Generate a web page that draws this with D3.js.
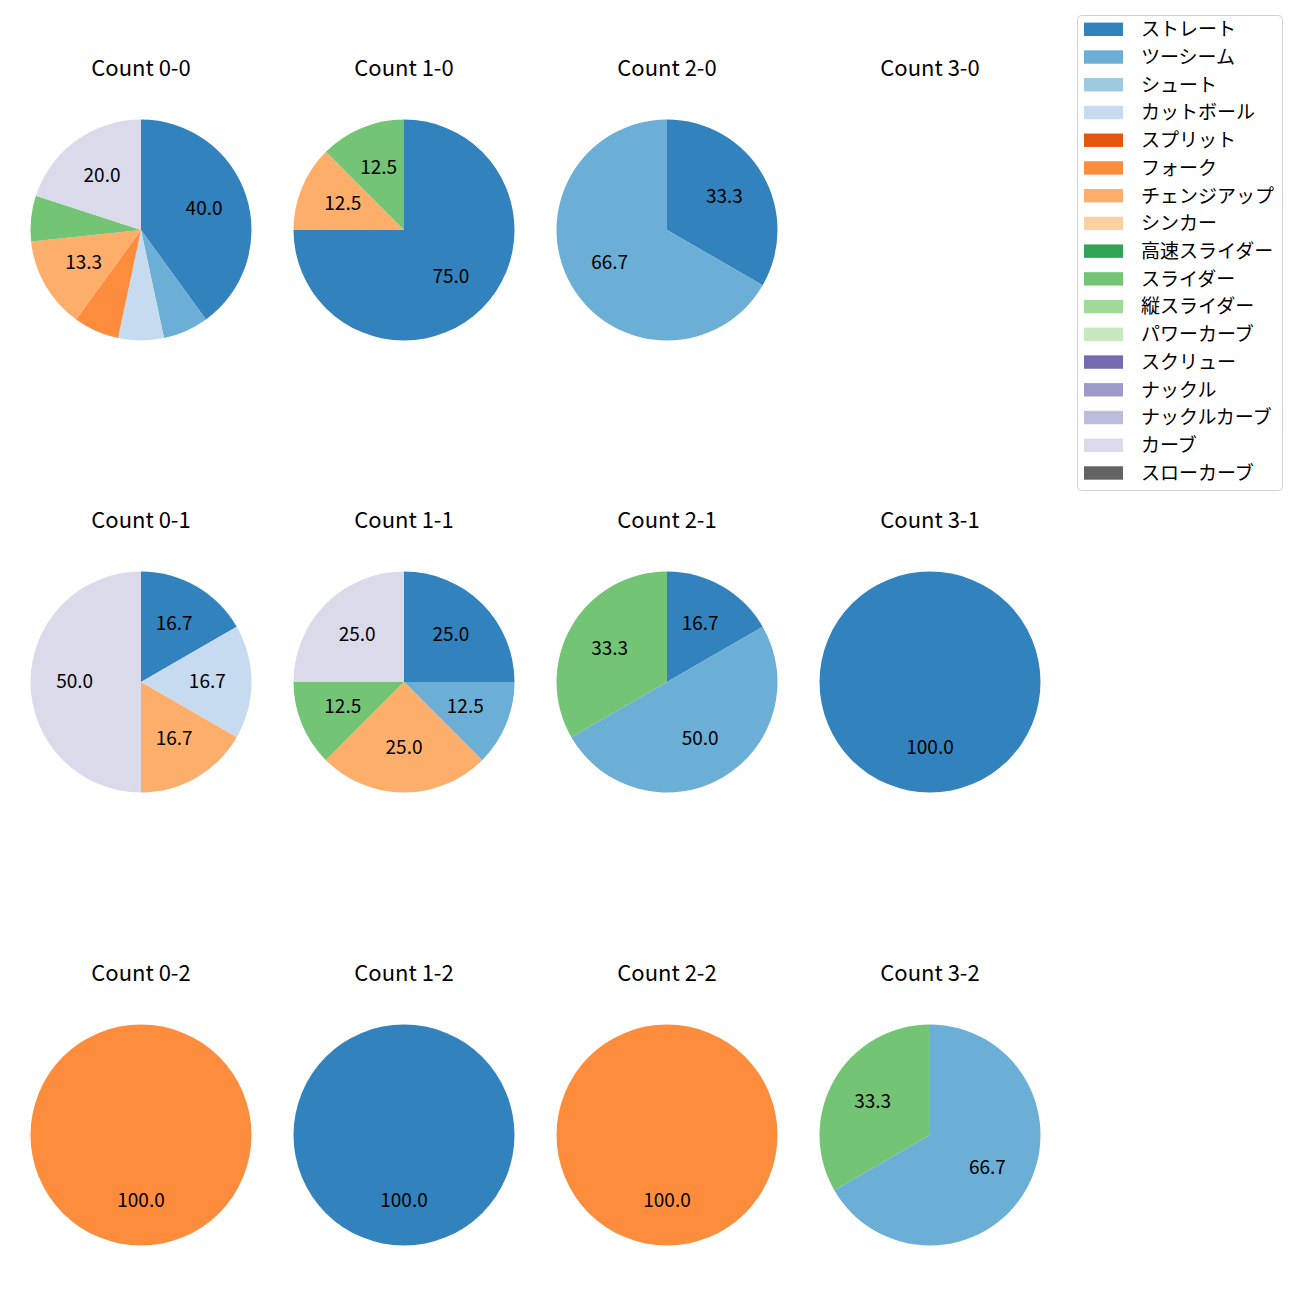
<!DOCTYPE html>
<html>
<head>
<meta charset="utf-8">
<script src="https://cdn.jsdelivr.net/npm/d3@7"></script>
<style>
  html, body { margin: 0; padding: 0; background: #fff; }
  svg { display: block; }
  text { font-family: "Noto Sans CJK JP", "Noto Sans", sans-serif; fill: #000; }
</style>
</head>
<body>
<svg id="chart" width="1300" height="1300"></svg>
<script>
// ---- Data ----
const pitchTypes = ["ストレート","ツーシーム","シュート","カットボール","スプリット","フォーク","チェンジアップ","シンカー","高速スライダー","スライダー","縦スライダー","パワーカーブ","スクリュー","ナックル","ナックルカーブ","カーブ","スローカーブ"];
const pitchColors = ["#3182bd","#6baed6","#9ecae1","#c6dbef","#e6550d","#fd8d3c","#fdae6b","#fdd0a2","#31a354","#74c476","#a1d99b","#c7e9c0","#756bb1","#9e9ac8","#bcbddc","#dadaeb","#636363"];

// Pitch counts per ball-strike count, in pitchTypes order
const countTitles = ["Count 0-0","Count 1-0","Count 2-0","Count 3-0",
                     "Count 0-1","Count 1-1","Count 2-1","Count 3-1",
                     "Count 0-2","Count 1-2","Count 2-2","Count 3-2"];
const count_0_0 = [6,1,0,1,0,1,2,0,0,1,0,0,0,0,0,3,0];
const count_1_0 = [6,0,0,0,0,0,1,0,0,1,0,0,0,0,0,0,0];
const count_2_0 = [1,2,0,0,0,0,0,0,0,0,0,0,0,0,0,0,0];
const count_3_0 = [0,0,0,0,0,0,0,0,0,0,0,0,0,0,0,0,0];
const count_0_1 = [1,0,0,1,0,0,1,0,0,0,0,0,0,0,0,3,0];
const count_1_1 = [2,1,0,0,0,0,2,0,0,1,0,0,0,0,0,2,0];
const count_2_1 = [1,3,0,0,0,0,0,0,0,2,0,0,0,0,0,0,0];
const count_3_1 = [1,0,0,0,0,0,0,0,0,0,0,0,0,0,0,0,0];
const count_0_2 = [0,0,0,0,0,1,0,0,0,0,0,0,0,0,0,0,0];
const count_1_2 = [1,0,0,0,0,0,0,0,0,0,0,0,0,0,0,0,0];
const count_2_2 = [0,0,0,0,0,1,0,0,0,0,0,0,0,0,0,0,0];
const count_3_2 = [0,2,0,0,0,0,0,0,0,1,0,0,0,0,0,0,0];
const countSeries = [count_0_0,count_1_0,count_2_0,count_3_0,
                     count_0_1,count_1_1,count_2_1,count_3_1,
                     count_0_2,count_1_2,count_2_2,count_3_2];

// ---- Layout ----
const svg = d3.select("#chart");
const colX = [141, 404, 667, 930];
const rowY = [230, 682, 1135];
const R = 110.5;
const color = d3.scaleOrdinal().domain(pitchTypes).range(pitchColors);

const pie = d3.pie().sort(null).value(d => d.v).startAngle(0).endAngle(2 * Math.PI);
const arc = d3.arc().innerRadius(0).outerRadius(R);
const labelArc = d3.arc().innerRadius(R * 0.6).outerRadius(R * 0.6);

countSeries.forEach((series, i) => {
  const cx = colX[i % 4], cy = rowY[Math.floor(i / 4)];
  const g = svg.append("g").attr("transform", `translate(${cx},${cy})`);
  g.append("text")
    .attr("x", 0).attr("y", -154)
    .attr("text-anchor", "middle")
    .style("font-size", "22px")
    .text(countTitles[i]);
  const total = d3.sum(series);
  if (total === 0) return;
  const data = series.map((v, k) => ({ name: pitchTypes[k], v })).filter(d => d.v > 0);
  const arcs = pie(data);
  g.selectAll("path.slice").data(arcs).join("path")
    .attr("class", "slice")
    .attr("d", arc)
    .attr("fill", d => color(d.data.name));
  g.selectAll("text.pct").data(arcs.filter(d => d.data.v / total * 100 >= 10)).join("text")
    .attr("class", "pct")
    .attr("transform", d => `translate(${labelArc.centroid(d)})`)
    .attr("text-anchor", "middle")
    .attr("dy", "0.3em")
    .style("font-size", "19px")
    .text(d => (d.data.v / total * 100).toFixed(1));
});

// ---- Legend ----
const lg = svg.append("g");
lg.append("rect")
  .attr("x", 1077.5).attr("y", 15.5).attr("width", 205).attr("height", 475)
  .attr("rx", 4).attr("fill", "#fff").attr("stroke", "#d0d0d0").attr("stroke-width", 1);
const rowStep = 27.73;
pitchTypes.forEach((p, k) => {
  const y = 29.3 + k * rowStep;
  lg.append("rect")
    .attr("x", 1084).attr("y", y - 6.7).attr("width", 39).attr("height", 13.4)
    .attr("fill", color(p));
  lg.append("text")
    .attr("x", 1141).attr("y", y).attr("dy", "0.36em")
    .style("font-size", "19px")
    .text(p);
});
</script>
</body>
</html>
